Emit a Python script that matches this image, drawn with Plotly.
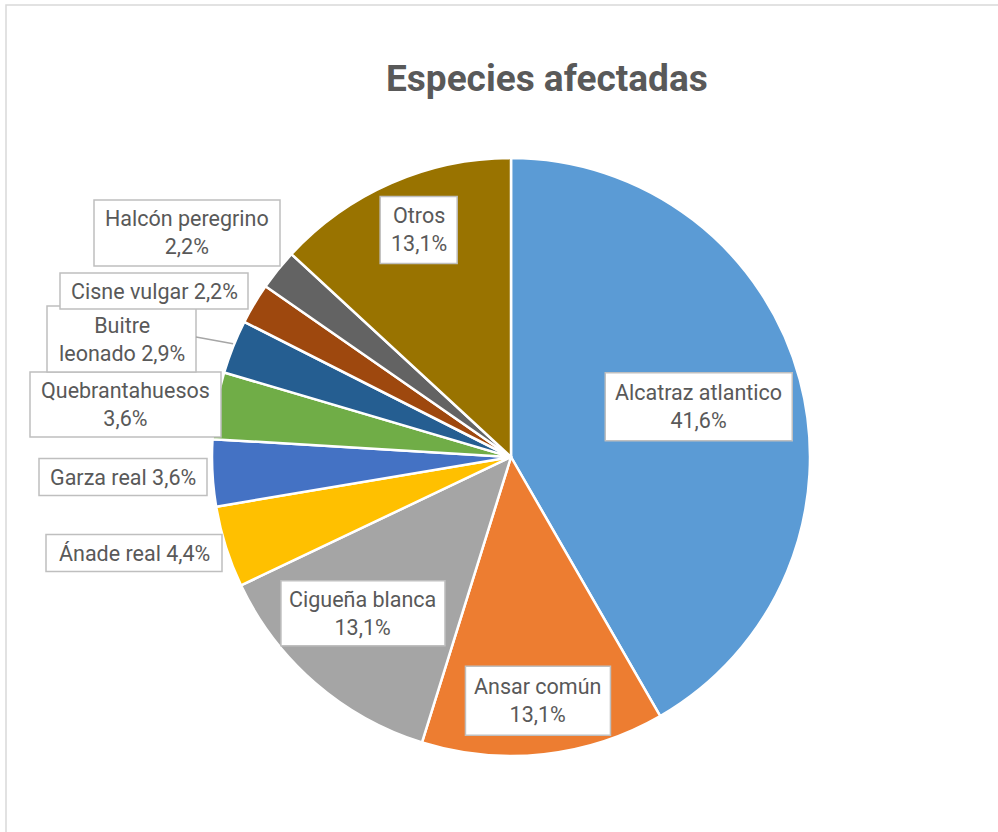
import math
import plotly.graph_objects as go

# ---- data ----
species = ["Alcatraz atlantico", "Ansar común", "Cigueña blanca", "Ánade real",
           "Garza real", "Quebrantahuesos", "Buitre leonado", "Cisne vulgar",
           "Halcón peregrino", "Otros"]
percent = [41.6, 13.1, 13.1, 4.4, 3.6, 3.6, 2.9, 2.2, 2.2, 13.1]
label_text = ["Alcatraz atlantico<br>41,6%", "Ansar común<br>13,1%",
              "Cigueña blanca<br>13,1%", "Ánade real 4,4%", "Garza real 3,6%",
              "Quebrantahuesos<br>3,6%", "Buitre<br>leonado 2,9%",
              "Cisne vulgar 2,2%", "Halcón peregrino<br>2,2%", "Otros<br>13,1%"]

# ---- style ----
colors = ["#5B9BD5", "#ED7D31", "#A5A5A5", "#FFC000", "#4472C4",
          "#70AD47", "#255E91", "#9E480E", "#636363", "#997300"]
W, H = 998, 832
CX, CY, R = 511, 457, 299
FONT = "Roboto"
TXT = "#595959"

# label placement: inside labels use (radial factor, angle shift deg); outside use box centres (px)
inside_place = {0: (0.65, 0), 1: (0.82, 0), 2: (0.72, 2.5), 9: (0.82, 1.5)}
outside_center = {3: (134, 553), 4: (123, 477), 5: (125.5, 404.5),
                  6: (121.5, 339), 7: (154, 291), 8: (187, 233)}
box_size = {0: (187, 68), 1: (145, 69), 2: (164, 65), 3: (176, 37), 4: (168, 37),
            5: (191, 65), 6: (149, 66), 7: (188, 36), 8: (186, 66), 9: (77, 67)}

fig = go.Figure(go.Pie(
    labels=species, values=percent, sort=False, direction="clockwise",
    rotation=0, textinfo="none", hoverinfo="label+percent",
    marker=dict(colors=colors, line=dict(color="white", width=2.5)),
    domain=dict(x=[(CX - R) / W, (CX + R) / W], y=[(H - CY - R) / H, (H - CY + R) / H]),
    showlegend=False,
))

def px(x, y):
    return x / W, 1 - y / H

total = sum(percent)
cum = 0.0
shapes = []
annotations = []
for i, v in enumerate(percent):
    mid = (cum + v / 2) / total * 2 * math.pi
    cum += v
    if i in inside_place:
        f, dang = inside_place[i]
        r = f * R
        a = mid + math.radians(dang)
        cx, cy = CX + r * math.sin(a), CY - r * math.cos(a)
    else:
        cx, cy = outside_center[i]
    bw, bh = box_size[i]
    x0, y1 = px(cx - bw / 2, cy - bh / 2)
    x1, y0 = px(cx + bw / 2, cy + bh / 2)
    shapes.append(dict(type="rect", xref="paper", yref="paper", x0=x0, x1=x1, y0=y0, y1=y1,
                       fillcolor="white", line=dict(color="#BFBFBF", width=1.5), layer="above"))
    ax, ay = px(cx, cy)
    annotations.append(dict(x=ax, y=ay, xref="paper", yref="paper", text=label_text[i],
                            showarrow=False, xanchor="center", yanchor="middle",
                            font=dict(family=FONT, size=21.5, color=TXT)))
    if i == 6:
        ex, ey = CX + R * math.sin(mid), CY - R * math.cos(mid) - 3
        sx, sy = cx + bw / 2, cy - 2
        a0, b0 = px(sx, sy)
        a1, b1 = px(ex, ey)
        shapes.append(dict(type="line", xref="paper", yref="paper", x0=a0, y0=b0, x1=a1, y1=b1,
                           line=dict(color="#A6A6A6", width=1.5), layer="above"))

# chart frame
fx0, fy1 = px(6, 5)
shapes.append(dict(type="rect", xref="paper", yref="paper", x0=fx0, y0=-0.02, x1=1.02, y1=fy1,
                   line=dict(color="#D9D9D9", width=1.5), fillcolor="rgba(0,0,0,0)", layer="below"))

tx, ty = px(547, 78)
annotations.append(dict(x=tx, y=ty, xref="paper", yref="paper", text="<b>Especies afectadas</b>",
                        showarrow=False, xanchor="center", yanchor="middle",
                        font=dict(family=FONT, size=37, color=TXT)))

fig.update_layout(width=W, height=H, margin=dict(l=0, r=0, t=0, b=0),
                  paper_bgcolor="white", plot_bgcolor="white",
                  shapes=shapes, annotations=annotations)
fig.write_html("out.html", config={"displayModeBar": False},
               post_script="document.body.style.margin='0';")
